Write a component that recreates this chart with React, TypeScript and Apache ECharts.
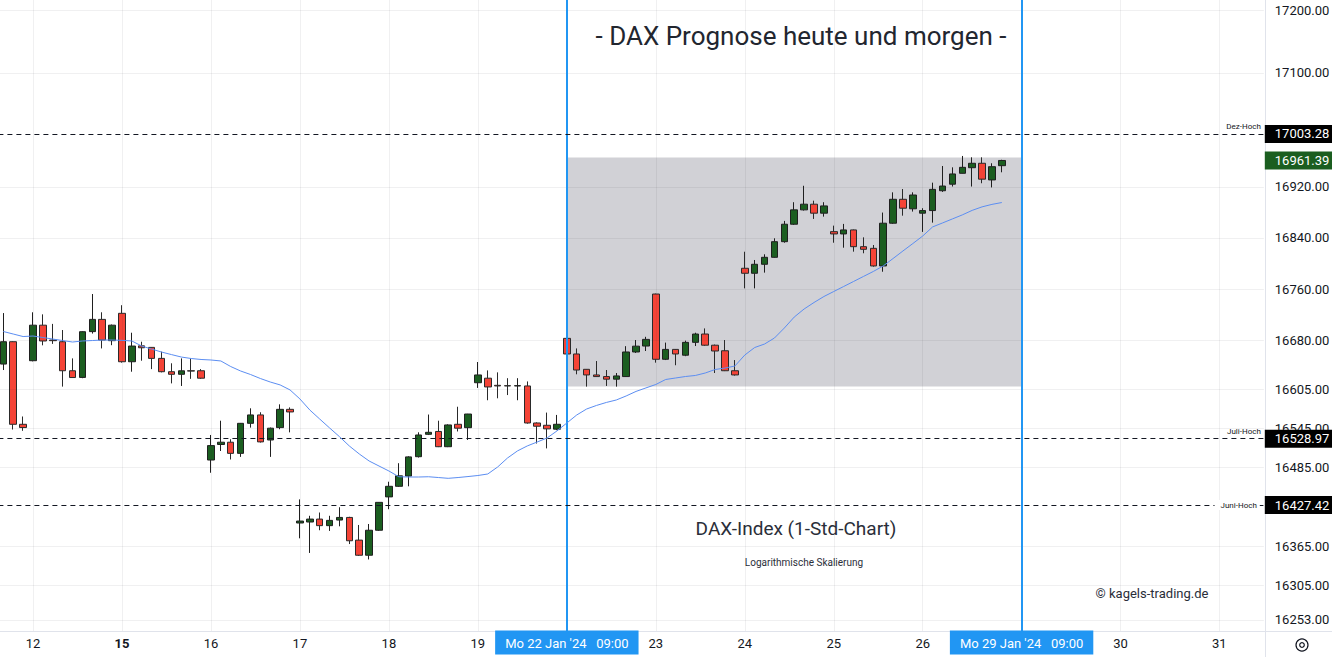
import React, { useEffect, useRef } from "react";
import * as echarts from "echarts";

// trading days and hourly slots shown on the time axis [day, firstHour, lastHour]
const dayHours: [string, number, number][] = [
  ["11", 15, 17],
  ["12", 9, 17],
  ["15", 9, 17],
  ["16", 9, 17],
  ["17", 9, 17],
  ["18", 9, 17],
  ["19", 9, 17],
  ["22", 9, 17],
  ["23", 9, 17],
  ["24", 9, 17],
  ["25", 9, 17],
  ["26", 9, 18],
  ["29", 9, 18],
  ["30", 9, 18],
  ["31", 9, 13],
];

const categories: string[] = [];
dayHours.forEach(([d, a, b]) => {
  for (let h = a; h <= b; h++) categories.push(`${d} ${h}:00`);
});

// hourly candles: [open, close, low, high]
const candles: number[][] = [
  [16643.8, 16678.4, 16634.6, 16722.8],
  [16678.4, 16551.0, 16543.0, 16679.0],
  [16551.0, 16546.0, 16541.0, 16563.0],
  [16649.0, 16704.0, 16648.0, 16724.0],
  [16704.0, 16679.5, 16672.8, 16720.8],
  [16681.0, 16680.0, 16675.0, 16706.0],
  [16678.4, 16633.5, 16609.0, 16696.5],
  [16633.5, 16623.0, 16623.0, 16652.6],
  [16623.2, 16693.9, 16622.0, 16694.5],
  [16694.0, 16713.0, 16691.0, 16752.4],
  [16713.0, 16681.0, 16668.0, 16724.0],
  [16680.0, 16704.0, 16673.0, 16705.0],
  [16722.4, 16647.4, 16646.0, 16735.0],
  [16647.4, 16671.7, 16632.0, 16692.3],
  [16672.0, 16669.0, 16649.0, 16678.4],
  [16669.6, 16652.6, 16636.0, 16670.0],
  [16652.6, 16632.0, 16631.0, 16663.0],
  [16632.0, 16628.0, 16614.0, 16645.0],
  [16628.0, 16633.4, 16610.0, 16652.6],
  [16633.5, 16633.0, 16621.0, 16652.6],
  [16633.5, 16622.0, 16621.0, 16636.0],
  [16496.2, 16518.3, 16476.7, 16534.6],
  [16520.0, 16523.5, 16510.0, 16556.5],
  [16523.5, 16506.4, 16497.0, 16528.0],
  [16506.4, 16552.5, 16501.0, 16553.0],
  [16552.5, 16565.4, 16545.9, 16575.6],
  [16565.4, 16524.0, 16523.0, 16569.5],
  [16526.9, 16545.0, 16501.0, 16546.0],
  [16545.9, 16574.0, 16543.4, 16581.7],
  [16574.0, 16570.0, 16538.6, 16577.0],
  [16400.0, 16403.0, 16376.7, 16436.0],
  [16401.5, 16406.0, 16354.5, 16411.0],
  [16406.0, 16396.0, 16389.0, 16416.0],
  [16396.0, 16404.0, 16388.0, 16411.0],
  [16404.5, 16408.5, 16395.0, 16424.0],
  [16408.5, 16373.0, 16368.0, 16409.5],
  [16374.0, 16351.0, 16350.0, 16397.0],
  [16351.0, 16389.0, 16344.6, 16398.5],
  [16389.0, 16431.5, 16388.0, 16432.0],
  [16439.8, 16456.0, 16421.0, 16463.0],
  [16456.0, 16472.0, 16455.0, 16491.3],
  [16471.6, 16501.0, 16456.0, 16502.0],
  [16501.3, 16534.6, 16500.0, 16538.7],
  [16535.6, 16538.7, 16534.5, 16566.0],
  [16540.0, 16516.6, 16516.0, 16556.5],
  [16516.6, 16550.0, 16516.0, 16551.0],
  [16551.0, 16545.0, 16540.0, 16578.0],
  [16545.8, 16566.8, 16527.0, 16567.0],
  [16615.0, 16627.0, 16607.0, 16647.0],
  [16622.0, 16608.5, 16588.0, 16634.0],
  [16611.0, 16610.0, 16591.0, 16631.0],
  [16610.5, 16610.0, 16596.0, 16622.0],
  [16610.0, 16610.5, 16588.0, 16622.0],
  [16610.0, 16553.0, 16552.0, 16617.0],
  [16553.0, 16548.0, 16521.5, 16554.0],
  [16549.5, 16544.0, 16514.0, 16569.0],
  [16543.5, 16551.0, 16542.0, 16565.4],
  [16683.6, 16659.4, 16645.0, 16707.0],
  [16659.4, 16634.6, 16628.0, 16668.0],
  [16635.7, 16627.0, 16609.0, 16636.0],
  [16627.0, 16624.5, 16624.0, 16648.5],
  [16624.5, 16620.5, 16610.0, 16634.6],
  [16620.5, 16625.5, 16609.0, 16630.0],
  [16624.5, 16662.5, 16624.0, 16671.5],
  [16662.5, 16671.5, 16661.0, 16681.0],
  [16671.7, 16682.0, 16664.0, 16686.0],
  [16752.4, 16651.2, 16646.0, 16753.0],
  [16651.2, 16666.5, 16650.0, 16677.0],
  [16666.5, 16659.4, 16642.0, 16667.0],
  [16657.5, 16677.4, 16656.0, 16680.0],
  [16677.4, 16690.3, 16671.7, 16692.3],
  [16690.3, 16673.0, 16672.0, 16699.0],
  [16673.0, 16664.0, 16630.0, 16674.0],
  [16664.4, 16633.5, 16633.0, 16681.0],
  [16633.5, 16627.0, 16626.0, 16650.0],
  [16792.5, 16784.7, 16761.2, 16818.3],
  [16784.7, 16798.7, 16761.2, 16805.4],
  [16798.7, 16809.6, 16785.7, 16814.3],
  [16809.6, 16834.0, 16809.0, 16839.3],
  [16834.0, 16861.3, 16832.4, 16866.5],
  [16861.3, 16883.8, 16860.2, 16895.8],
  [16883.8, 16892.7, 16882.7, 16921.6],
  [16892.7, 16878.6, 16869.6, 16898.2],
  [16878.6, 16890.0, 16873.2, 16895.8],
  [16849.7, 16846.1, 16832.4, 16859.1],
  [16846.1, 16852.4, 16824.6, 16861.8],
  [16852.4, 16826.2, 16818.4, 16853.0],
  [16826.2, 16822.1, 16815.9, 16840.8],
  [16823.6, 16796.1, 16795.0, 16828.8],
  [16796.1, 16862.9, 16787.1, 16879.6],
  [16862.9, 16900.4, 16862.0, 16911.3],
  [16900.4, 16886.4, 16874.7, 16916.5],
  [16885.5, 16907.1, 16881.1, 16911.3],
  [16878.6, 16882.7, 16849.3, 16886.4],
  [16882.7, 16916.0, 16863.8, 16926.5],
  [16913.8, 16921.2, 16912.0, 16952.7],
  [16924.1, 16940.2, 16920.4, 16950.6],
  [16941.2, 16950.6, 16941.0, 16968.5],
  [16950.0, 16957.0, 16920.4, 16966.4],
  [16957.0, 16932.0, 16925.6, 16966.4],
  [16930.8, 16951.6, 16919.0, 16957.0],
  [16953.2, 16961.39, 16942.8, 16962.5],
];

// moving average (blue line)
const movingAverage: number[] = [
  16694.2, 16690.3, 16686.4, 16687.2, 16684.9, 16682.5, 16680.2, 16677.9, 16679.5, 16680.2,
  16681.0, 16681.0, 16680.5, 16679.5, 16671.7, 16667.0, 16662.4, 16658.5, 16654.7, 16652.4,
  16650.9, 16650.1, 16648.6, 16640.0, 16633.1, 16627.7, 16621.5, 16616.1, 16611.6, 16603.9,
  16590.0, 16573.0, 16559.1, 16545.4, 16532.0, 16517.7, 16505.5, 16494.7, 16487.0, 16479.4,
  16470.6, 16470.2, 16470.2, 16470.6, 16469.4, 16468.2, 16469.4, 16470.9, 16472.5, 16474.8,
  16485.5, 16499.3, 16510.1, 16517.8, 16523.8, 16530.0, 16540.8, 16553.0, 16565.3, 16574.5,
  16580.0, 16584.6, 16588.4, 16594.6, 16601.6, 16607.0, 16612.3, 16620.0, 16622.3, 16624.6,
  16626.2, 16630.0, 16635.4, 16637.7, 16640.8, 16657.8, 16669.4, 16674.8, 16684.1, 16699.6,
  16716.6, 16729.1, 16739.2, 16748.5, 16756.3, 16764.1, 16771.9, 16779.7, 16787.5, 16796.1,
  16807.7, 16819.5, 16831.1, 16842.9, 16857.1, 16863.3, 16869.6, 16875.9, 16883.0, 16888.5,
  16892.4, 16895.3,
];

// price axis tick labels
const priceTicks: number[] = [17200, 17100, 16920, 16840, 16760, 16680, 16605, 16545, 16485, 16365, 16305, 16253];

// horizontal levels
const levelValues: number[] = [17003.28, 16528.97, 16427.42];
const levelNames: string[] = ["Dez-Hoch", "Juli-Hoch", "Juni-Hoch"];
const lastPrice = 16961.39;

// highlighted zone and time markers
const zoneLow = 16609;
const zoneHigh = 16966;
const markerTimes: string[] = ["22 9:00", "29 9:00"];
const markerLabels: Record<string, string> = {
  "22": "Mo 22 Jan '24   09:00",
  "29": "Mo 29 Jan '24   09:00",
};

const FONT = "Roboto";
const TXT = "#131722";
const CLEAR = "rgba(0,0,0,0)";

export default function App() {
  const ref = useRef<HTMLDivElement>(null);

  useEffect(() => {
    const chart = echarts.init(ref.current!, null, { renderer: "svg" });
    const dayStarts = categories.filter((c) => c.endsWith(" 9:00"));

    const option: any = {
      animation: false,
      backgroundColor: "#ffffff",
      textStyle: { fontFamily: FONT },
      grid: { left: -1.6, top: 0, width: 1265.4, height: 631, containLabel: false, outerBoundsMode: "none" },
      xAxis: {
        type: "category",
        data: categories,
        boundaryGap: true,
        axisLine: { show: false },
        axisTick: { show: false },
        splitLine: { show: false },
        axisLabel: {
          interval: (_i: number, v: string) => v.endsWith(" 9:00"),
          margin: 4,
          formatter: (v: string) => {
            const d = v.split(" ")[0];
            if (markerLabels[d]) return `{hl|${markerLabels[d]}}`;
            if (d === "15") return `{b|${d}}`;
            return `{n|${d}}`;
          },
          rich: {
            n: { fontFamily: FONT, fontSize: 13, color: TXT, padding: [6, 0, 5, 0], lineHeight: 15 },
            b: { fontFamily: FONT, fontSize: 13, color: TXT, fontWeight: "bold", padding: [6, 0, 5, 0], lineHeight: 15 },
            hl: {
              fontFamily: FONT,
              fontSize: 13,
              color: "#ffffff",
              backgroundColor: "#2196f3",
              padding: [6, 10, 5, 10],
              lineHeight: 15,
            },
          },
        },
      },
      yAxis: {
        type: "log",
        logBase: 10,
        min: 16236.4,
        max: 17216,
        position: "right",
        axisLabel: { show: false },
        axisLine: { show: false },
        axisTick: { show: false },
        splitLine: { show: false },
      },
      series: [
        {
          type: "line",
          data: [],
          z: 1,
          silent: true,
          markArea: {
            silent: true,
            itemStyle: { color: "#d1d1d6" },
            data: [[{ xAxis: markerTimes[0], yAxis: zoneLow }, { xAxis: markerTimes[1], yAxis: zoneHigh }]],
          },
        },
        {
          type: "line",
          data: [],
          z: 2,
          silent: true,
          markLine: {
            silent: true,
            symbol: ["none", "none"],
            animation: false,
            lineStyle: { color: "rgba(42,46,57,0.07)", type: "solid", width: 1 },
            label: {
              show: true,
              position: "end",
              distance: 11,
              color: TXT,
              fontFamily: FONT,
              fontSize: 13,
              formatter: (p: any) => Number(p.value).toFixed(2),
            },
            data: [
              ...dayStarts.map((c) => ({ xAxis: c, label: { show: false } })),
              ...priceTicks.map((v) => ({ yAxis: v })),
            ],
          },
        },
        {
          type: "line",
          data: [],
          z: 3,
          silent: true,
          markLine: {
            silent: true,
            symbol: ["none", "none"],
            animation: false,
            lineStyle: { color: "#2196f3", type: "solid", width: 2 },
            label: { show: false },
            data: markerTimes.map((t) => ({ xAxis: t })),
          },
        },
        {
          type: "candlestick",
          data: candles,
          z: 4,
          barWidth: 7,
          itemStyle: {
            color: "#1b5e20",
            color0: "#f44336",
            borderColor: "#1f1f1f",
            borderColor0: "#2a2a2a",
            borderColorDoji: "#2a2a2a",
            borderWidth: 1,
          },
        },
        {
          type: "line",
          data: movingAverage,
          z: 5,
          showSymbol: false,
          symbol: "none",
          smooth: false,
          lineStyle: { color: "#5c8ef2", width: 1 },
        },
        {
          type: "line",
          data: [],
          z: 6,
          silent: true,
          markLine: {
            silent: true,
            symbol: ["none", "none"],
            animation: false,
            lineStyle: { color: TXT, type: [5, 4], width: 1 },
            label: {
              show: true,
              position: "end",
              distance: 1,
              color: "#ffffff",
              backgroundColor: "#000000",
              padding: [3, 8, 2, 10],
              fontFamily: FONT,
              fontSize: 13,
              opacity: 1,
              formatter: (p: any) => Number(p.value).toFixed(2),
            },
            data: [
              ...levelValues.map((v) => ({ yAxis: v })),
              {
                yAxis: lastPrice,
                lineStyle: { color: CLEAR, type: "solid" },
                label: { backgroundColor: "#1b5e20", color: "#ffffff", opacity: 1 },
              },
              ...levelValues.map((v, i) => ({
                yAxis: v,
                name: levelNames[i],
                lineStyle: { color: CLEAR, type: "solid" },
                label:
                  i === 2
                    ? {
                        position: "insideEnd",
                        formatter: levelNames[i],
                        color: TXT,
                        opacity: 1,
                        backgroundColor: "#ffffff",
                        padding: [1, 3, 1, 6],
                        fontSize: 8,
                        distance: 4,
                      }
                    : {
                        position: "insideEndTop",
                        formatter: levelNames[i],
                        color: TXT,
                        opacity: 1,
                        backgroundColor: CLEAR,
                        padding: 0,
                        fontSize: 8,
                        distance: 3,
                      },
              })),
            ],
          },
        },
      ],
      graphic: [
        { type: "line", silent: true, shape: { x1: 0, y1: 631.5, x2: 1332, y2: 631.5 }, style: { stroke: "#e0e3eb", lineWidth: 1 } },
        { type: "line", silent: true, shape: { x1: 1265.5, y1: 0, x2: 1265.5, y2: 657 }, style: { stroke: "#e0e3eb", lineWidth: 1 } },
        { type: "circle", silent: true, shape: { cx: 1302, cy: 645, r: 6 }, style: { fill: "none", stroke: TXT, lineWidth: 1.2 } },
        { type: "circle", silent: true, shape: { cx: 1302, cy: 645, r: 2.3 }, style: { fill: "none", stroke: TXT, lineWidth: 1.2 } },
        {
          type: "text",
          silent: true,
          x: 801,
          y: 36,
          style: { text: "- DAX Prognose heute und morgen -", fontFamily: FONT, fontSize: 26, fill: "#22262f", textAlign: "center", textVerticalAlign: "middle", align: "center", verticalAlign: "middle" },
        },
        {
          type: "text",
          silent: true,
          x: 796,
          y: 528,
          style: { text: "DAX-Index (1-Std-Chart)", fontFamily: FONT, fontSize: 19, fill: "#2a2e39", textAlign: "center", textVerticalAlign: "middle", align: "center", verticalAlign: "middle" },
        },
        {
          type: "text",
          silent: true,
          x: 804,
          y: 562,
          style: { text: "Logarithmische Skalierung", fontFamily: FONT, fontSize: 10, fill: "#2a2e39", textAlign: "center", textVerticalAlign: "middle", align: "center", verticalAlign: "middle" },
        },
        {
          type: "text",
          silent: true,
          x: 1152,
          y: 593,
          style: { text: "© kagels-trading.de", fontFamily: FONT, fontSize: 13, fill: "#2a2e39", textAlign: "center", textVerticalAlign: "middle", align: "center", verticalAlign: "middle" },
        },
      ],
    };

    chart.setOption(option);
    return () => chart.dispose();
  }, []);

  return (
    <div
      ref={ref}
      style={{ position: "fixed", left: 0, top: 0, width: 1332, height: 657, background: "#ffffff" }}
    />
  );
}
